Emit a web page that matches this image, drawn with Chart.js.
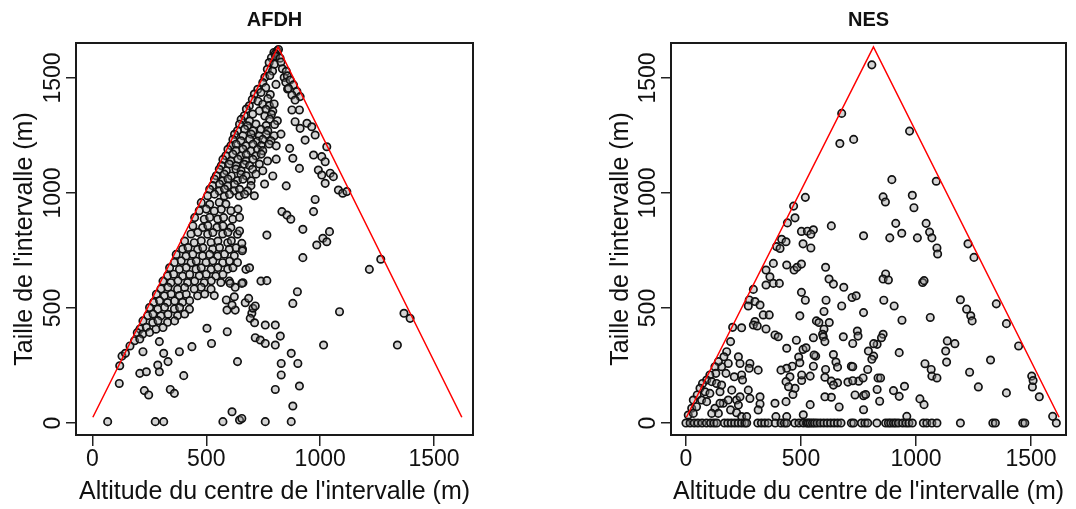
<!DOCTYPE html>
<html>
<head>
<meta charset="utf-8">
<script src="https://cdn.jsdelivr.net/npm/chart.js@4/dist/chart.umd.min.js"></script>
<style>
  html, body { margin: 0; padding: 0; background: #fff; }
  #wrap { position: relative; width: 1076px; height: 509px; }
  .panel { position: absolute; top: 0; width: 538px; height: 509px; }
</style>
</head>
<body>
<div id="wrap">
  <div class="panel" style="left:0"><canvas id="afdhChart" width="538" height="509"></canvas></div>
  <div class="panel" style="left:538px"><canvas id="nesChart" width="538" height="509"></canvas></div>
</div>
<script>
// =====================================
// DATA
// =====================================

const xTicks = [0, 500, 1000, 1500];
const yTicks = [0, 500, 1000, 1500];

// triangle limit: interval size vs centre altitude
const limitAlt = [2, 815, 1622];
const limitSize = [25, 1635, 25];

// AFDH : [altitude du centre, taille de l'intervalle]
const afdhPoints = [
  [797,1611],[812,1618],[817,1624],[803,1605],
  [786,1588],[804,1595],[824,1586],
  [776,1567],[799,1560],[828,1569],
  [768,1538],[791,1530],[834,1540],[851,1529],
  [757,1503],[779,1511],[842,1502],[856,1509],
  [748,1480],[806,1472],[849,1481],
  [726,1451],[761,1458],[857,1452],
  [711,1430],[740,1437],[781,1428],
  [702,1407],[727,1399],[770,1410],
  [689,1379],[748,1386],[777,1380],[798,1387],
  [676,1365],[733,1357],[762,1364],[792,1356],
  [667,1336],[704,1343],[757,1335],[786,1342],
  [653,1320],[690,1313],[778,1321],[812,1314],
  [646,1299],[681,1292],[718,1300],[763,1293],[800,1298],
  [637,1271],[668,1278],[705,1270],[740,1277],[770,1271],
  [624,1255],[661,1249],[697,1256],[733,1248],[763,1255],[798,1249],[828,1256],
  [617,1233],[652,1227],[690,1234],[725,1226],[748,1233],[784,1227],
  [608,1206],[631,1212],[674,1205],[705,1212],[741,1206],[776,1213],[807,1205],
  [595,1190],[630,1184],[661,1191],[696,1183],[725,1190],[748,1184],
  [586,1162],[617,1169],[652,1161],[675,1168],[718,1162],[741,1169],
  [573,1146],[608,1139],[639,1147],[674,1140],[705,1146],[769,1139],[807,1147],
  [566,1119],[601,1126],[631,1118],[667,1125],[690,1119],[733,1126],
  [557,1103],[588,1097],[630,1104],[653,1096],[703,1103],[748,1097],
  [544,1075],[579,1082],[610,1074],[652,1081],[675,1075],[718,1082],[792,1074],
  [536,1060],[572,1053],[595,1061],[637,1054],[661,1060],[697,1053],
  [528,1032],[558,1039],[594,1031],[624,1038],[696,1032],[756,1039],[851,1031],
  [515,1016],[557,1009],[580,1017],[623,1010],[646,1016],[681,1009],
  [506,988],[536,995],[579,987],[602,994],[645,988],[668,995],[711,988],
  [478,958],[515,951],[557,959],[586,952],
  [469,923],[500,930],[535,922],[566,929],[608,923],[639,930],
  [449,893],[491,886],[515,894],[550,887],[576,893],[616,886],[646,894],
  [441,857],[484,850],[507,858],[547,851],[573,857],[608,850],
  [433,822],[463,829],[506,821],[529,828],[572,822],[595,829],[637,821],
  [405,791],[447,784],[478,792],[521,785],[551,791],[594,784],[610,792],
  [396,756],[420,763],[462,755],[485,762],[528,756],[558,763],[601,755],[631,762],[659,756],
  [368,733],[411,726],[441,734],[484,727],[515,733],[550,726],[580,734],[623,727],
  [360,698],[390,705],[433,697],[456,704],[499,698],[529,705],[572,697],[602,704],[637,698],
  [339,675],[382,668],[412,676],[455,669],[478,675],[521,668],[551,676],[594,669],[617,675],[674,668],
  [330,640],[357,647],[396,639],[427,646],[469,640],[500,647],[542,639],[573,646],
  [310,617],[345,610],[376,618],[418,611],[449,617],[491,610],[522,618],[564,611],[601,617],[661,610],
  [301,583],[332,590],[374,582],[405,589],[447,583],[478,590],[521,582],
  [281,560],[316,553],[346,561],[382,554],[412,560],[462,553],[493,561],[535,554],
  [269,525],[295,532],[330,524],[361,531],[396,525],[427,532],
  [251,502],[287,495],[317,503],[360,496],[383,502],[426,495],
  [243,467],[266,474],[301,466],[332,473],[374,467],[405,474],
  [222,444],[265,437],[288,445],[330,438],[361,444],
  [209,409],[237,416],[279,408],[310,415],
  [197,393],[221,387],[251,394],
  [185,358],[208,365],
  [165,335],
  [67,6],[276,6],[313,6],[573,6],[613,49],[646,13],[656,20],
  [118,172],[130,291],[145,303],[120,249],[222,310],[208,216],[237,223],[294,223],[287,252],
  [228,141],[247,122],[342,146],[360,129],[313,303],[332,267],[294,354],[382,310],[401,206],
  [437,332],[523,346],[503,412],[592,397],[637,267],[627,491],[591,491],[613,513],[671,523],
  [686,542],[690,675],[658,749],[656,781],[646,835],[605,607],[627,590],[656,607],[623,549],
  [588,535],[700,477],[705,499],[715,509],[693,455],[712,436],[715,371],[737,361],[740,617],
  [868,1491],[883,1470],[898,1441],[912,1419],[861,1455],[876,1426],[890,1404],[876,1361],
  [909,1361],[890,1310],[912,1281],[942,1303],[963,1288],[978,1252],[934,1230],[971,1165],
  [1007,1158],[1022,1136],[1029,1201],[866,1194],[880,1151],[909,1107],[992,1100],[1007,1078],
  [1022,1042],[1044,1086],[1058,1071],[1080,1013],[1099,999],[1117,1006],[978,972],[971,919],
  [832,919],[854,904],[871,886],[924,842],[985,774],[1012,803],[1041,832],[1029,788],
  [766,817],[924,719],[1216,668],[1266,712],[766,619],[900,571],[880,520],[1085,484],
  [1368,477],[1395,455],[1015,339],[1339,339],[803,426],[759,426],[825,378],[759,346],
  [803,339],[873,303],[829,259],[902,259],[829,209],[803,146],[909,161],[880,74],
  [759,6],[873,6]
];

// NES : [altitude du centre, taille de l'intervalle]
const nesPoints = [
  [808,1557],[677,1346],[669,1215],[729,1233],[972,1269],[895,1058],[1088,1051],[519,981],
  [468,943],[857,983],[867,961],[984,990],[991,936],[474,892],[632,857],[502,833],
  [528,834],[554,840],[543,821],[509,779],[543,761],[772,814],[912,868],[938,825],
  [886,805],[1006,805],[1044,868],[1059,830],[1069,805],[1091,761],[1094,735],[1226,779],
  [1252,720],[470,665],[483,677],[502,691],[495,466],[502,568],[519,534],[607,677],
  [622,626],[641,604],[677,509],[686,590],[722,546],[740,553],[772,480],[745,400],
  [748,378],[609,534],[600,485],[567,444],[578,437],[623,437],[600,408],[594,386],
  [554,371],[480,360],[509,320],[522,327],[490,287],[495,262],[462,247],[465,124],
  [503,185],[540,204],[554,247],[564,291],[641,298],[652,265],[659,243],[607,233],
  [604,199],[632,182],[659,175],[632,112],[666,70],[540,80],[510,36],[704,178],
  [719,247],[751,182],[770,196],[790,233],[793,313],[816,291],[808,277],[831,342],
  [857,386],[850,371],[816,345],[772,119],[772,58],[781,124],[835,196],[846,196],
  [831,146],[842,95],[902,141],[927,116],[950,160],[927,306],[939,447],[905,509],
  [860,534],[868,648],[857,626],[880,622],[1029,611],[1035,619],[1062,459],[1039,258],
  [1066,233],[1069,204],[1091,196],[1017,105],[1035,80],[1129,313],[1136,357],[1169,345],
  [1133,265],[1193,536],[1220,495],[1238,466],[1244,444],[1233,221],[1271,157],[1324,274],
  [1349,518],[1393,432],[1446,335],[1393,131],[1503,204],[1506,157],[1509,185],[1536,114],
  [1594,29],[960,29],
  [503,209],[474,151],[452,201],[604,114],[641,165],[735,122],[725,184],[684,375],
  [725,346],[725,245],[557,296],[597,375],[604,354],[441,870],
  [416,799],[435,788],[394,767],[409,759],[380,694],[348,665],[365,636],[348,600],
  [380,607],[406,607],[438,687],[293,581],[275,535],[300,528],[322,513],[271,509],
  [336,470],[362,470],[203,416],[242,414],[300,441],[293,426],[310,422],[348,409],
  [387,383],[401,375],[438,325],[438,238],[413,230],[435,180],[446,158],[194,354],
  [177,310],[165,288],[184,259],[155,245],[174,216],[141,267],[126,245],[130,216],
  [104,209],[90,187],[112,180],[133,172],[155,165],[72,172],[61,151],[83,136],
  [104,129],[49,122],[32,100],[68,100],[90,93],[25,64],[46,71],[10,35],
  [32,42],[228,288],[235,259],[278,259],[275,238],[314,230],[210,201],[242,209],
  [246,187],[199,143],[162,86],[220,100],[235,114],[228,78],[271,143],[278,107],
  [322,114],[322,83],[314,57],[194,57],[220,45],[242,28],[264,28],[126,64],
  [141,42],[112,42],[148,86],[184,100],[148,136],[387,86],[435,93],[438,28],[391,28]
];

// NES intervals of size 0
const nesZeroAlt = [
  0,18,36,52,70,89,107,122,134,167,182,197,212,227,242,256,264,312,328,343,358,388,413,428,
  438,473,491,510,525,532,540,550,559,570,584,599,614,629,644,659,674,719,729,763,778,790,
  830,868,880,890,902,912,924,942,957,969,984,1032,1047,1069,1091,1193,1334,1345,1464,1473,1610
];

// =====================================
// CHARTS
// =====================================

const FONT = '"Liberation Sans", Arial, Helvetica, sans-serif';
Chart.defaults.font.family = FONT;
Chart.defaults.color = "#111";

const framePlugin = {
    id: "frame",
    afterDatasetsDraw(chart){
        const a = chart.chartArea;
        const ctx = chart.ctx;
        ctx.save();
        ctx.strokeStyle = "#1a1a1a";
        ctx.lineWidth = 2;
        ctx.strokeRect(a.left, a.top, a.right - a.left, a.bottom - a.top);
        ctx.restore();
    }
};

function toXY(pairs){
    return pairs.map(p => ({x: p[0], y: p[1]}));
}

// plain numbers, no thousands separator
const plainTick = v => String(v);

function createPanel(canvasId, title, points, cfg){

    const canvas = document.getElementById(canvasId);

    const limit = limitAlt.map((a, i) => ({x: a, y: limitSize[i]}));

    return new Chart(canvas, {
        type: "scatter",
        data: {
            datasets: [
                {
                    type: "line",
                    data: limit,
                    borderColor: "#ff0000",
                    borderWidth: 1.5,
                    pointRadius: 0,
                    fill: false,
                    tension: 0,
                    order: 0
                },
                {
                    data: points,
                    pointRadius: 3.7,
                    pointBorderWidth: 1.7,
                    pointBorderColor: "#111",
                    pointBackgroundColor: "rgba(150,150,150,0.4)",
                    order: 1
                }
            ]
        },
        options: {
            responsive: false,
            animation: false,
            devicePixelRatio: 1,
            events: [],
            layout: {
                padding: {left: 0, right: cfg.padRight, top: 0, bottom: 0}
            },
            plugins: {
                legend: {display: false},
                tooltip: {enabled: false},
                title: {
                    display: true,
                    text: title,
                    fullSize: false,
                    color: "#111",
                    font: {size: 20, weight: "bold", family: FONT},
                    padding: {top: 8, bottom: 11}
                }
            },
            scales: {
                x: {
                    type: "linear",
                    min: cfg.xMin,
                    max: cfg.xMax,
                    afterBuildTicks: s => { s.ticks = xTicks.map(v => ({value: v})); },
                    afterFit: s => { s.height = 74; },
                    border: {display: false},
                    grid: {drawOnChartArea: false, drawTicks: true, tickLength: 11, color: "#222", lineWidth: 1.5},
                    ticks: {font: {size: 23}, color: "#111", padding: 0, maxRotation: 0, autoSkip: false, callback: plainTick},
                    title: {
                        display: true,
                        text: "Altitude du centre de l'intervalle (m)",
                        color: "#111",
                        font: {size: 25},
                        padding: {top: 0, bottom: 2}
                    }
                },
                y: {
                    type: "linear",
                    min: -52,
                    max: 1652,
                    afterBuildTicks: s => { s.ticks = yTicks.map(v => ({value: v})); },
                    afterFit: s => { s.width = cfg.yWidth; },
                    border: {display: false},
                    grid: {drawOnChartArea: false, drawTicks: true, tickLength: 10, color: "#222", lineWidth: 1.5},
                    ticks: {font: {size: 23}, color: "#111", minRotation: 90, maxRotation: 90, crossAlign: "center", padding: -13, autoSkip: false, callback: plainTick},
                    title: {
                        display: true,
                        text: "Taille de l'intervalle (m)",
                        color: "#111",
                        font: {size: 25},
                        padding: {top: cfg.yTitlePad, bottom: 0}
                    }
                }
            }
        },
        plugins: [framePlugin]
    });
}

const nesAll = nesPoints.concat(nesZeroAlt.map(a => [a, 0]));

createPanel("afdhChart", "AFDH", toXY(afdhPoints), {
    xMin: -72, xMax: 1671, padRight: 65, yWidth: 76, yTitlePad: 10
});

createPanel("nesChart", "NES", toXY(nesAll), {
    xMin: -65, xMax: 1652, padRight: 10, yWidth: 133, yTitlePad: 68
});
</script>
</body>
</html>
